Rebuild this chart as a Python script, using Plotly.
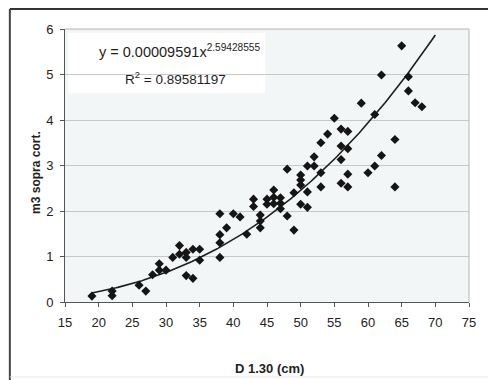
import plotly.graph_objects as go
import numpy as np

# Observed data: diameter at 1.30 m (cm) and volume (m3 sopra corteccia)
diam = [19, 22, 22, 26, 27, 28, 29, 29, 30, 31, 32, 32, 33, 33, 33, 34, 34, 35, 35,
        38, 38, 38, 38, 39, 40, 41, 42, 43, 43, 44, 44, 44, 45, 45, 46, 46, 46,
        47, 47, 47, 48, 48, 49, 49, 50, 50, 50, 50, 51, 51, 51, 52, 52, 53, 53, 53,
        54, 55, 56, 56, 56, 56, 57, 57, 57, 57, 59, 60, 61, 61, 62, 62, 64, 64,
        65, 66, 66, 67, 68]
vol = [0.13, 0.24, 0.14, 0.37, 0.24, 0.60, 0.84, 0.70, 0.70, 0.98, 1.24, 1.05, 1.09, 0.98, 0.58,
       1.16, 0.52, 1.16, 0.92,
       1.94, 1.48, 1.30, 0.98, 1.63, 1.94, 1.87, 1.49, 2.26, 2.10, 1.91, 1.78, 1.63, 2.26, 2.15,
       2.46, 2.30, 2.16, 2.29, 2.17, 2.05, 2.92, 1.89, 2.40, 1.58, 2.79, 2.68, 2.57, 2.15,
       2.99, 2.42, 2.08, 3.19, 2.99, 3.50, 2.84, 2.53, 3.69, 4.04, 3.80, 3.43, 3.13, 2.61,
       3.75, 3.37, 2.81, 2.53, 4.37, 2.84, 4.12, 2.99, 4.99, 3.22, 3.57, 2.53,
       5.63, 4.95, 4.64, 4.38, 4.29]

# Power trendline as shown on the chart
coef_a = 0.00009591
coef_b = 2.59428555
r2_text = "0.89581197"
trend_x0, trend_x1 = 19, 70

x_ticks = [15, 20, 25, 30, 35, 40, 45, 50, 55, 60, 65, 70, 75]
y_ticks = [0, 1, 2, 3, 4, 5, 6]

tx = np.linspace(trend_x0, trend_x1, 200)
ty = coef_a * tx ** coef_b

FONT = "Liberation Sans, Arial, sans-serif"

fig = go.Figure()
fig.add_trace(go.Scatter(x=tx, y=ty, mode="lines",
                         line=dict(color="#1e1e1e", width=1.6), hoverinfo="skip"))
fig.add_trace(go.Scatter(x=diam, y=vol, mode="markers",
                         marker=dict(symbol="diamond", size=7, color="#151515")))

# outer frame (in paper coords)
L, R, B, T = -0.1365, 1.062, -0.2747, 1.073
shapes = [
    dict(type="line", xref="paper", yref="paper", x0=L, x1=R + 0.01, y0=T, y1=T,
         line=dict(color="#333333", width=2)),
    dict(type="line", xref="paper", yref="paper", x0=L, x1=L, y0=B - 0.02, y1=T,
         line=dict(color="#444444", width=2)),
    dict(type="line", xref="paper", yref="paper", x0=R, x1=R, y0=B, y1=T,
         line=dict(color="#e2e2e2", width=1)),
    dict(type="line", xref="paper", yref="paper", x0=L, x1=R, y0=B, y1=B,
         line=dict(color="#e6e6e6", width=1)),
    # white box behind equation label
    dict(type="rect", xref="paper", yref="paper", x0=0.008, x1=0.495, y0=0.765, y1=0.985,
         fillcolor="white", line=dict(width=0), layer="below"),
    # top & right plot border
    dict(type="line", xref="paper", yref="paper", x0=0, x1=1, y0=1, y1=1,
         line=dict(color="#b5b5b5", width=1)),
    dict(type="line", xref="paper", yref="paper", x0=1, x1=1, y0=0, y1=1,
         line=dict(color="#b5b5b5", width=1)),
]

# page body has an 8px margin, so figure is placed at (8, 8)
fig.update_layout(
    width=488, height=372,
    margin=dict(l=57, r=27, t=21, b=78),
    paper_bgcolor="white",
    plot_bgcolor="#f3f6f6",
    showlegend=False,
    font=dict(family=FONT, size=13, color="#222222"),
    shapes=shapes,
    xaxis=dict(range=[15, 75], tickvals=x_ticks, ticks="outside", ticklen=4,
               tickcolor="#555555", showline=True, linecolor="#555555", linewidth=1,
               mirror=False, showgrid=False, zeroline=False, ticklabelstandoff=4,
               tickfont=dict(size=13, family=FONT, color="#222222")),
    yaxis=dict(range=[0, 6], tickvals=y_ticks, ticks="outside", ticklen=4,
               tickcolor="#555555", showline=True, linecolor="#555555", linewidth=1,
               showgrid=True, gridcolor="#c8c8c8", gridwidth=1, zeroline=False,
               ticklabelstandoff=4,
               tickfont=dict(size=13, family=FONT, color="#222222")),
    annotations=[
        dict(text="<b>D 1.30 (cm)</b>", xref="paper", yref="paper", x=0.505, y=-0.245,
             xanchor="center", yanchor="middle",
             showarrow=False, font=dict(size=13, family=FONT, color="#222222")),
        dict(text="<b>m3 sopra cort.</b>", xref="paper", yref="paper", x=-0.072, y=0.476,
             xanchor="center", yanchor="middle",
             textangle=-90, showarrow=False, font=dict(size=12, family=FONT, color="#222222")),
        dict(text=f"y = {coef_a:.8f}x<sup>{coef_b}</sup>", xref="paper", yref="paper",
             x=0.08, y=0.959, xanchor="left", showarrow=False,
             font=dict(size=14.5, family=FONT, color="#1e1e1e")),
        dict(text=f"R<sup>2</sup> = {r2_text}", xref="paper", yref="paper",
             x=0.143, y=0.862, xanchor="left", showarrow=False,
             font=dict(size=13.5, family=FONT, color="#1e1e1e")),
    ],
)

fig.write_html("out.html")
